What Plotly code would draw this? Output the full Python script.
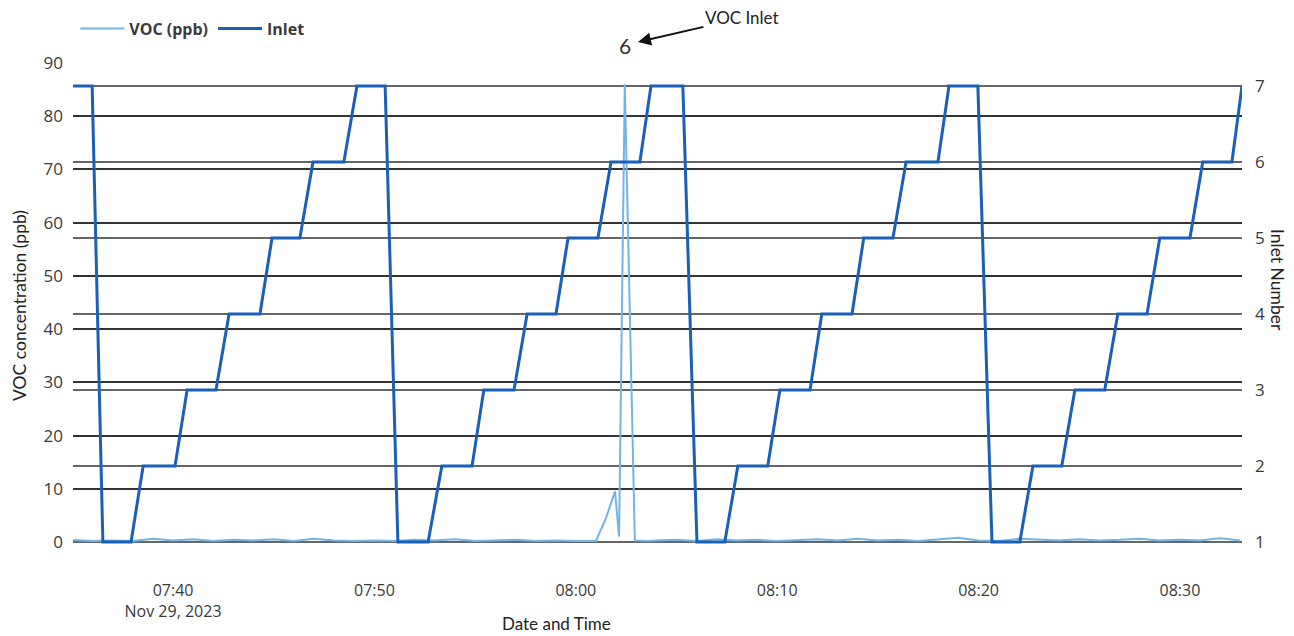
import plotly.graph_objects as go

DAY = "2023-11-29 "

# Inlet number breakpoints (time, inlet)
inlet_times = ["07:35:02", "07:35:59", "07:36:31", "07:37:55", "07:38:31", "07:40:06", "07:40:42",
               "07:42:08", "07:42:47", "07:44:19", "07:44:55", "07:46:18", "07:46:57", "07:48:29",
               "07:49:08", "07:50:32", "07:51:10", "07:52:40", "07:53:21", "07:54:51", "07:55:26",
               "07:56:56", "07:57:35", "07:59:01", "07:59:37", "08:01:06", "08:01:45", "08:03:11",
               "08:03:44", "08:05:19", "08:06:01", "08:07:24", "08:08:03", "08:09:32", "08:10:08",
               "08:11:38", "08:12:13", "08:13:43", "08:14:18", "08:15:45", "08:16:24", "08:17:59",
               "08:18:32", "08:19:58", "08:20:40", "08:22:03", "08:22:42", "08:24:08", "08:24:47",
               "08:26:16", "08:26:55", "08:28:22", "08:29:00", "08:30:30", "08:31:08", "08:32:35",
               "08:33:05"]
inlet_vals = [7, 7, 1, 1, 2, 2, 3,
              3, 4, 4, 5, 5, 6, 6,
              7, 7, 1, 1, 2, 2, 3,
              3, 4, 4, 5, 5, 6, 6,
              7, 7, 1, 1, 2, 2, 3,
              3, 4, 4, 5, 5, 6, 6,
              7, 7, 1, 1, 2, 2, 3,
              3, 4, 4, 5, 5, 6, 6,
              7]

# VOC concentration (ppb)
voc_times = ["07:35:00", "07:36:00", "07:37:00", "07:38:00", "07:39:00", "07:40:00", "07:41:00",
             "07:42:00", "07:43:00", "07:44:00", "07:45:00", "07:46:00", "07:47:00", "07:48:00",
             "07:49:00", "07:50:00", "07:51:00", "07:52:00", "07:53:00", "07:54:00", "07:55:00",
             "07:56:00", "07:57:00", "07:58:00", "07:59:00", "08:00:00", "08:01:00", "08:01:30",
             "08:01:57", "08:02:09", "08:02:26", "08:02:56", "08:03:30", "08:04:00", "08:05:00",
             "08:06:00", "08:07:00", "08:08:00", "08:09:00", "08:10:00", "08:11:00", "08:12:00",
             "08:13:00", "08:14:00", "08:15:00", "08:16:00", "08:17:00", "08:18:00", "08:19:00",
             "08:20:00", "08:21:00", "08:22:00", "08:23:00", "08:24:00", "08:25:00", "08:26:00",
             "08:27:00", "08:28:00", "08:29:00", "08:30:00", "08:31:00", "08:32:00", "08:33:00"]
voc_vals = [0.4, 0.2, 0.3, 0.2, 0.6, 0.3, 0.5,
            0.2, 0.4, 0.3, 0.5, 0.2, 0.6, 0.3,
            0.2, 0.3, 0.2, 0.4, 0.3, 0.5, 0.2,
            0.3, 0.4, 0.2, 0.3, 0.2, 0.2, 4.5,
            9.5, 1.0, 86.0, 0.3, 0.2, 0.3, 0.4,
            0.2, 0.5, 0.3, 0.4, 0.2, 0.3, 0.5,
            0.3, 0.6, 0.3, 0.4, 0.2, 0.5, 0.8,
            0.3, 0.2, 0.6, 0.4, 0.3, 0.5, 0.3,
            0.4, 0.6, 0.3, 0.4, 0.3, 0.7, 0.3]

x_range = ["07:35:02", "08:33:05"]
voc_label_time = "08:02:26"
voc_label_text = "6"

FONT = "Open Sans"
TFONT = "Lato"

fig = go.Figure()
fig.add_trace(go.Scatter(
    x=[DAY + t for t in voc_times], y=voc_vals, name="VOC (ppb)", mode="lines",
    line=dict(color="#74b3e6", width=2), yaxis="y"))
fig.add_trace(go.Scatter(
    x=[DAY + t for t in inlet_times], y=inlet_vals, name="Inlet", mode="lines",
    line=dict(color="#1a5fb8", width=3), yaxis="y2"))

fig.update_layout(
    width=1294, height=636,
    margin=dict(l=73, r=52, t=63, b=88),
    plot_bgcolor="white", paper_bgcolor="white",
    font=dict(family=FONT, size=16, color="#3a3a3a"),
    showlegend=True,
    legend=dict(orientation="h", x=0.002, xanchor="left", y=1.106, yanchor="top",
                font=dict(family=FONT, size=16, color="#3a3a3a", weight=700),
                itemwidth=44, bgcolor="rgba(0,0,0,0)"),
    xaxis=dict(type="date", range=[DAY + x_range[0], DAY + x_range[1]],
               dtick=600000, tick0=DAY + "07:40:00", showgrid=False, zeroline=False,
               showline=False, ticks="", ticklabelstandoff=31,
               tickfont=dict(family=FONT, size=16, color="#3a3a3a")),
    yaxis=dict(range=[-1.127, 90], tickvals=[0, 10, 20, 30, 40, 50, 60, 70, 80, 90],
               showgrid=True, gridcolor="#333", gridwidth=2, zeroline=False,
               showline=False, ticks="", ticklabelstandoff=9,
               tickfont=dict(family=FONT, size=17, color="#3a3a3a"),
               title=dict(text="VOC concentration (ppb)", standoff=12,
                          font=dict(family=TFONT, size=17.5, color="#222"))),
    yaxis2=dict(range=[0.921, 7.3026], tickvals=[1, 2, 3, 4, 5, 6, 7], overlaying="y",
                side="right", showgrid=True, gridcolor="#666", gridwidth=1.5,
                zeroline=False, showline=False, ticks="", ticklabelstandoff=12,
                tickfont=dict(family=FONT, size=17, color="#3a3a3a")),
)

fig.add_annotation(x=DAY + voc_label_time, y=(548 - 46) / 485, xref="x", yref="paper",
                   text=voc_label_text, showarrow=False, yanchor="middle", xanchor="center",
                   font=dict(family=TFONT, size=21, color="#333"))
fig.add_annotation(x=(638 - 73) / 1169, y=(548 - 42) / 485, xref="paper", yref="paper",
                   text="VOC Inlet", showarrow=True, ax=104, ay=-24,
                   arrowhead=2, arrowsize=1.3, arrowwidth=2, arrowcolor="#111",
                   font=dict(family=TFONT, size=17, color="#222"))
fig.add_annotation(x=(556 - 73) / 1169, y=(548 - 623) / 485, xref="paper", yref="paper",
                   text="Date and Time", showarrow=False, yanchor="middle", xanchor="center",
                   font=dict(family=TFONT, size=17, color="#222"))
fig.add_annotation(x=(1278 - 73) / 1169, y=(548 - 280) / 485, xref="paper", yref="paper",
                   text="Inlet Number", showarrow=False, textangle=90,
                   xanchor="center", yanchor="middle",
                   font=dict(family=TFONT, size=17.5, color="#222"))

fig.write_html("out.html")
